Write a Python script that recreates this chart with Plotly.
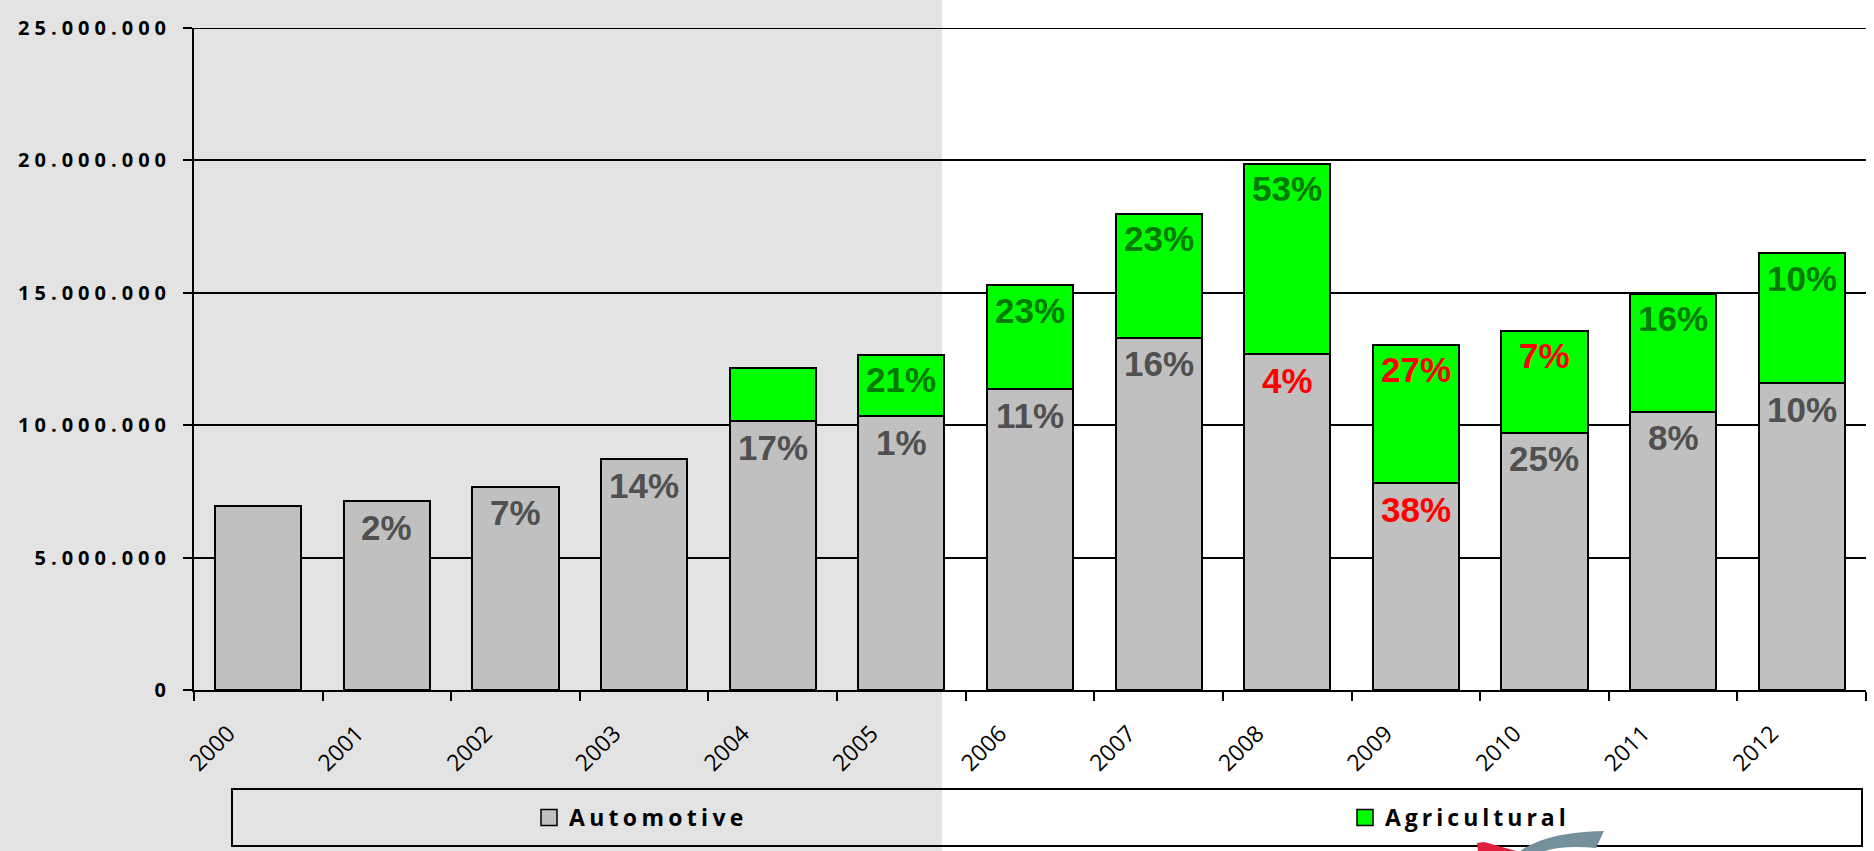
import plotly.graph_objects as go

years = ["2000", "2001", "2002", "2003", "2004", "2005", "2006", "2007", "2008", "2009", "2010", "2011", "2012"]
automotive = [6950000, 7130000, 7670000, 8710000, 10150000, 10330000, 11360000, 13300000, 12680000, 7810000, 9720000, 10510000, 11590000]
agricultural = [0, 0, 0, 0, 2020000, 2340000, 3920000, 4680000, 7200000, 5220000, 3850000, 4450000, 4900000]
auto_pct = ["", "2%", "7%", "14%", "17%", "1%", "11%", "16%", "4%", "38%", "25%", "8%", "10%"]
auto_pct_color = ["#505050"] * 8 + ["#ff0000", "#ff0000"] + ["#505050"] * 3
agri_pct = ["", "", "", "", "", "21%", "23%", "23%", "53%", "27%", "7%", "16%", "10%"]
agri_pct_color = ["#007a00"] * 9 + ["#ff0000", "#ff0000"] + ["#007a00"] * 2
y_ticks = [0, 5000000, 10000000, 15000000, 20000000, 25000000]
y_tick_labels = ["0", "5.000.000", "10.000.000", "15.000.000", "20.000.000", "25.000.000"]
series_names = ["Automotive", "Agricultural"]
series_colors = ["#c0c0c0", "#00ff00"]

W, H = 1874, 851
ML, MR, MT, MB = 194, 8, 28, 161
PW, PH = W - ML - MR, H - MT - MB


def px_x(p):
    return (p - ML) / PW


def px_y(p):
    return (H - MB - p) / PH


fig = go.Figure()
fig.add_trace(go.Bar(x=years, y=automotive, name=series_names[0], showlegend=False,
                     marker=dict(color=series_colors[0], line=dict(color="black", width=2))))
fig.add_trace(go.Bar(x=years, y=agricultural, name=series_names[1], showlegend=False,
                     marker=dict(color=series_colors[1], line=dict(color="black", width=2))))

# legend entries
fig.add_trace(go.Scatter(x=[years[0]], y=[None], mode="markers",
                         name="<span style='letter-spacing:4.3px'>" + series_names[0] + "</span>",
                         legend="legend", hoverinfo="skip",
                         marker=dict(symbol="square", size=16, color=series_colors[0], line=dict(color="black", width=1.5))))
fig.add_trace(go.Scatter(x=[years[0]], y=[None], mode="markers",
                         name="<span style='letter-spacing:4px'>" + series_names[1] + "</span>",
                         legend="legend2", hoverinfo="skip",
                         marker=dict(symbol="square", size=16, color=series_colors[1], line=dict(color="black", width=1.5))))

annotations = []
for i, yr in enumerate(years):
    if auto_pct[i]:
        annotations.append(dict(x=i, y=automotive[i], xref="x", yref="y", text=auto_pct[i], showarrow=False,
                                yanchor="middle", yshift=-26,
                                font=dict(family="Liberation Sans, Arial", size=35, color=auto_pct_color[i], weight=700)))
    if agri_pct[i]:
        annotations.append(dict(x=i, y=automotive[i] + agricultural[i], xref="x", yref="y", text=agri_pct[i],
                                showarrow=False, yanchor="middle", yshift=-25,
                                font=dict(family="Liberation Sans, Arial", size=35, color=agri_pct_color[i], weight=700)))

shapes = [
    dict(type="rect", xref="paper", yref="paper", x0=px_x(-5), x1=px_x(942), y0=px_y(H + 5), y1=px_y(-5),
         fillcolor="#e3e3e3", line=dict(width=0), layer="below"),
    dict(type="line", xref="paper", yref="y", x0=0, x1=1, y0=y_ticks[-1], y1=y_ticks[-1],
         line=dict(color="black", width=2), layer="below"),
    dict(type="rect", xref="paper", yref="paper", x0=px_x(232), x1=px_x(1862), y0=px_y(846), y1=px_y(789),
         fillcolor="rgba(0,0,0,0)", line=dict(color="black", width=2), layer="above"),
    # partial logo at the bottom edge
    dict(type="path", xref="paper", yref="paper",
         path="M {:.5f},{:.5f} L {:.5f},{:.5f} L {:.5f},{:.5f} L {:.5f},{:.5f} Z".format(
             px_x(1477), px_y(843), px_x(1484), px_y(842), px_x(1520), px_y(852), px_x(1478), px_y(852)),
         fillcolor="#e0203c", line=dict(width=0), layer="above"),
    dict(type="path", xref="paper", yref="paper",
         path="M {:.5f},{:.5f} Q {:.5f},{:.5f} {:.5f},{:.5f} L {:.5f},{:.5f} Q {:.5f},{:.5f} {:.5f},{:.5f} Z".format(
             px_x(1519), px_y(852), px_x(1545), px_y(832), px_x(1604), px_y(831), px_x(1596), px_y(848),
             px_x(1560), px_y(845), px_x(1542), px_y(852)),
         fillcolor="#74909a", line=dict(width=0), layer="above"),
]

fig.update_layout(
    width=W, height=H,
    margin=dict(l=ML, r=MR, t=MT, b=MB, pad=0, autoexpand=False),
    paper_bgcolor="white", plot_bgcolor="rgba(0,0,0,0)",
    barmode="stack", bargap=0.33,
    font=dict(family="Open Sans", color="black"),
    annotations=annotations, shapes=shapes,
    legend=dict(orientation="h", x=px_x(529), xanchor="left", y=px_y(817.5), yanchor="middle",
                bgcolor="rgba(0,0,0,0)", borderwidth=0,
                font=dict(family="Open Sans", size=23, color="black", weight=700)),
    legend2=dict(orientation="h", x=px_x(1345), xanchor="left", y=px_y(817.5), yanchor="middle",
                 bgcolor="rgba(0,0,0,0)", borderwidth=0,
                 font=dict(family="Open Sans", size=23, color="black", weight=700)),
)

fig.update_xaxes(type="category", categoryorder="array", categoryarray=years, range=[-0.5, len(years) - 0.5],
                 automargin=False,
                 showline=True, linecolor="black", linewidth=2,
                 ticks="outside", tickson="boundaries", ticklen=9, tickwidth=2, tickcolor="black",
                 tickangle=-45, ticklabelshift=-30, ticklabelstandoff=19,
                 tickfont=dict(family="Open Sans", size=23, color="black"),
                 showgrid=False, zeroline=False, fixedrange=True)
fig.update_yaxes(range=[0, 25000000], tickmode="array", tickvals=y_ticks, automargin=False,
                 ticktext=["<span style='letter-spacing:5px'>" + t + "</span>" for t in y_tick_labels],
                 showline=True, linecolor="black", linewidth=2,
                 ticks="outside", ticklen=9, tickwidth=2, tickcolor="black", ticklabelstandoff=8,
                 tickfont=dict(family="Open Sans", size=20, color="black", weight=700),
                 showgrid=True, gridcolor="black", gridwidth=2, zeroline=False, fixedrange=True)

fig.write_html("out.html", config={"displayModeBar": False},
               post_script="document.body.style.margin='0';document.body.style.padding='0';")
